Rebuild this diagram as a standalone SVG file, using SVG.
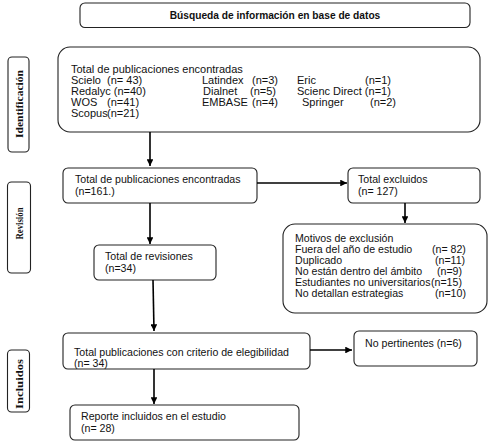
<svg xmlns="http://www.w3.org/2000/svg" width="490" height="445" viewBox="0 0 490 445">
<defs>
<marker id="ah" viewBox="0 0 10 10" refX="10" refY="5" markerWidth="4.2" markerHeight="4.2" orient="auto" markerUnits="strokeWidth">
<path d="M0,0 L10,5 L0,10 Z" fill="#000"/>
</marker>
<style>
.box{fill:#fff;stroke:#222;stroke-width:1.1}
.t{font-family:"Liberation Sans",Arial,sans-serif;font-size:10.6px;fill:#111}
.i{font-size:11px}
.b{font-family:"Liberation Sans",Arial,sans-serif;font-size:10.2px;font-weight:bold;fill:#111}
.s{font-family:"Liberation Serif","Times New Roman",serif;font-size:11px;font-weight:bold;fill:#111}
.c{fill:none;stroke:#000;stroke-width:1.6;marker-end:url(#ah)}
</style>
</defs>
<rect width="490" height="445" fill="#fff"/>

<g id="title">
<rect class="box" x="80" y="3" width="390" height="24.5" rx="5"/>
<text class="b" x="275" y="19" text-anchor="middle">Búsqueda de información en base de datos</text>
</g>

<g id="side-identificacion">
<rect class="box" x="8" y="57" width="21" height="95" rx="4"/>
<text class="s" transform="translate(22.5,104) rotate(-90)" text-anchor="middle" textLength="68" lengthAdjust="spacingAndGlyphs">Identificación</text>
</g>
<g id="side-revision">
<rect class="box" x="7.5" y="182" width="23" height="91" rx="4"/>
<text class="s" transform="translate(22.5,223.5) rotate(-90)" text-anchor="middle" textLength="32" lengthAdjust="spacingAndGlyphs">Revisión</text>
</g>
<g id="side-incluidos">
<rect class="box" x="7.5" y="350" width="22" height="62" rx="4"/>
<text class="s" transform="translate(22.5,384) rotate(-90)" text-anchor="middle" textLength="50" lengthAdjust="spacingAndGlyphs">Incluidos</text>
</g>

<g id="identificacion">
<rect class="box" x="58" y="47" width="422" height="85" rx="12"/>
<text class="t i" x="71" y="72.7">Total de publicaciones encontradas</text>
<text class="t i" x="71" y="84">Scielo</text><text class="t i" x="107" y="84">(n= 43)</text>
<text class="t i" x="202" y="84">Latindex</text><text class="t i" x="252" y="84">(n=3)</text>
<text class="t i" x="297" y="84">Eric</text><text class="t i" x="365" y="84">(n=1)</text>
<text class="t i" x="71" y="95">Redalyc (n=40)</text>
<text class="t i" x="203" y="95">Dialnet</text><text class="t i" x="250" y="95">(n=5)</text>
<text class="t i" x="297" y="95">Scienc Direct (n=1)</text>
<text class="t i" x="71" y="106">WOS</text><text class="t i" x="107" y="106">(n=41)</text>
<text class="t i" x="202" y="106">EMBASE</text><text class="t i" x="252" y="106">(n=4)</text>
<text class="t i" x="302" y="106">Springer</text><text class="t i" x="370" y="106">(n=2)</text>
<text class="t i" x="71" y="117">Scopus</text><text class="t i" x="107" y="117">(n=21)</text>
</g>

<g id="total-encontradas">
<rect class="box" x="63" y="168" width="194" height="35" rx="5"/>
<text class="t" x="75" y="183.3">Total de publicaciones encontradas</text>
<text class="t" x="75" y="195">(n=161.)</text>
</g>

<g id="total-excluidos">
<rect class="box" x="348" y="168" width="132" height="35" rx="5"/>
<text class="t" x="358" y="183.3">Total excluidos</text>
<text class="t" x="358" y="195">(n= 127)</text>
</g>

<g id="motivos">
<rect class="box" x="283" y="224" width="204" height="89" rx="12"/>
<text class="t" x="295" y="241.7">Motivos de exclusión</text>
<text class="t" x="295" y="252.7">Fuera del año de estudio</text><text class="t" x="432" y="252.7">(n= 82)</text>
<text class="t" x="295" y="264">Duplicado</text><text class="t" x="435" y="264">(n=11)</text>
<text class="t" x="295" y="275">No están dentro del ámbito</text><text class="t" x="437" y="275">(n=9)</text>
<text class="t" x="295" y="286">Estudiantes no universitarios</text><text class="t" x="431" y="286">(n=15)</text>
<text class="t" x="295" y="297">No detallan estrategias</text><text class="t" x="435" y="297">(n=10)</text>
</g>

<g id="total-revisiones">
<rect class="box" x="94" y="245" width="122" height="35" rx="5"/>
<text class="t" x="105" y="260">Total de revisiones</text>
<text class="t" x="105" y="271.5">(n=34)</text>
</g>

<g id="elegibilidad">
<rect class="box" x="63" y="333" width="247" height="36" rx="5"/>
<text class="t" x="74" y="355.5">Total publicaciones con criterio de elegibilidad</text>
<text class="t" x="74" y="367">(n= 34)</text>
</g>

<g id="no-pertinentes">
<rect class="box" x="354" y="331" width="123" height="35" rx="5"/>
<text class="t" x="365" y="346.7">No pertinentes (n=6)</text>
</g>

<g id="reporte">
<rect class="box" x="70" y="405" width="229" height="35" rx="5"/>
<text class="t" x="81" y="420">Reporte incluidos en el estudio</text>
<text class="t" x="81" y="431.5">(n= 28)</text>
</g>

<g id="connectors">
<line class="c" x1="150" y1="132" x2="150" y2="166"/>
<line class="c" x1="257" y1="183" x2="347" y2="183"/>
<line class="c" x1="405" y1="203" x2="405" y2="223"/>
<line class="c" x1="150" y1="203" x2="150" y2="244"/>
<line class="c" x1="153" y1="280" x2="154" y2="331"/>
<line class="c" x1="310" y1="350" x2="352" y2="350"/>
<line class="c" x1="154" y1="369" x2="154" y2="404"/>
</g>
</svg>
